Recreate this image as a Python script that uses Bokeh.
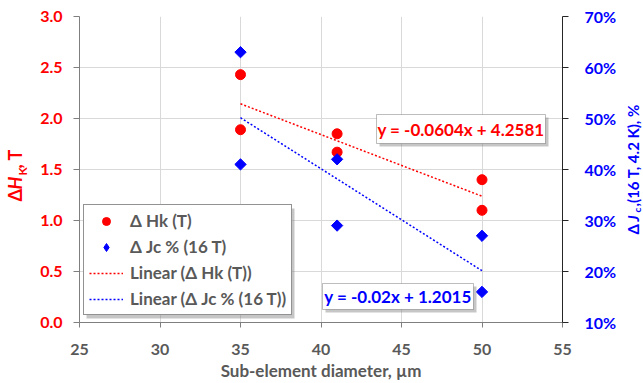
import math

from bokeh.embed import file_html
from bokeh.layouts import row
from bokeh.models import (BoxAnnotation, Label, Legend, LegendItem, LinearAxis,
                          NumeralTickFormatter, Range1d)
from bokeh.plotting import figure
from bokeh.resources import INLINE

# Measured data: sub-element diameter vs. change of Hk and Jc
diameter = [35, 35, 41, 41, 50, 50]
delta_hk = [2.43, 1.89, 1.85, 1.67, 1.40, 1.10]
delta_jc = [0.63, 0.41, 0.42, 0.29, 0.27, 0.16]

# Linear trend coefficients (slope, intercept)
hk_fit = (-0.0604, 4.2581)
jc_fit = (-0.02, 1.2015)
fit_span = [35, 50]

x_ticks = [25, 30, 35, 40, 45, 50, 55]
hk_ticks = [0.0, 0.5, 1.0, 1.5, 2.0, 2.5, 3.0]
jc_ticks = [0.1, 0.2, 0.3, 0.4, 0.5, 0.6, 0.7]

FONT = "Lato"
RED = "#FF0000"
BLUE = "#0000FF"
GRAY = "#595959"

# page geometry (pixels)
W, H = 643, 383
LEFT_STRIP, RIGHT_STRIP = 30, 23          # strips holding the vertical titles
LEFT, RIGHT, TOP, BOTTOM = 79, 81, 16, 61  # frame borders measured on the whole page
FW, FH = W - LEFT - RIGHT, H - TOP - BOTTOM
X0, X1 = x_ticks[0], x_ticks[-1]
Y0, Y1 = hk_ticks[0], hk_ticks[-1]


def px_x(px):
    return X0 + (px - LEFT) * (X1 - X0) / FW


def px_y(py):
    return Y0 + (TOP + FH - py) * (Y1 - Y0) / FH


p = figure(width=W - LEFT_STRIP - RIGHT_STRIP, height=H, output_backend="svg",
           toolbar_location=None, x_range=Range1d(X0, X1), y_range=Range1d(Y0, Y1),
           min_border_left=LEFT - LEFT_STRIP, min_border_right=RIGHT - RIGHT_STRIP,
           min_border_top=TOP, min_border_bottom=BOTTOM)
p.extra_y_ranges = {"jc": Range1d(jc_ticks[0], jc_ticks[-1])}
p.outline_line_color = None
p.background_fill_color = "white"
p.border_fill_color = "white"

# grid
p.xgrid.ticker = x_ticks
p.ygrid.ticker = hk_ticks
p.grid.grid_line_color = "#d9d9d9"
p.grid.grid_line_width = 1

# bottom axis
xa = p.xaxis[0]
xa.ticker = x_ticks
xa.axis_label = "Sub-element diameter, µm"
xa.axis_label_text_font = FONT
xa.axis_label_text_font_style = "bold"
xa.axis_label_text_font_size = "17px"
xa.axis_label_text_color = GRAY
xa.axis_label_standoff = 2
xa.major_label_text_font = FONT
xa.major_label_text_font_style = "bold"
xa.major_label_text_font_size = "16px"
xa.major_label_text_color = GRAY
xa.major_label_standoff = 16
xa.axis_line_color = "#7f7f7f"
xa.major_tick_line_color = "#7f7f7f"
xa.major_tick_out = 5
xa.major_tick_in = 0
xa.minor_tick_line_color = None

# left axis
ya = p.yaxis[0]
ya.ticker = hk_ticks
ya.formatter = NumeralTickFormatter(format="0.0")
ya.major_label_text_font = FONT
ya.major_label_text_font_style = "bold"
ya.major_label_text_font_size = "16px"
ya.major_label_text_color = RED
ya.major_label_standoff = 11
ya.axis_line_color = "#7f7f7f"
ya.major_tick_line_color = "#7f7f7f"
ya.major_tick_out = 6
ya.major_tick_in = 0
ya.minor_tick_line_color = None

# right axis
ra = LinearAxis(y_range_name="jc", ticker=jc_ticks,
                formatter=NumeralTickFormatter(format="0%"))
ra.major_label_text_font = FONT
ra.major_label_text_font_style = "bold"
ra.major_label_text_font_size = "16px"
ra.major_label_text_color = BLUE
ra.major_label_standoff = 16
ra.axis_line_color = "#262626"
ra.major_tick_line_color = "#262626"
ra.major_tick_out = 6
ra.major_tick_in = 0
ra.minor_tick_line_color = None
p.add_layout(ra, "right")

# trend lines
hk_line = p.line(fit_span, [hk_fit[0] * x + hk_fit[1] for x in fit_span],
                 line_color=RED, line_width=1.5, line_dash="2 2")
jc_line = p.line(fit_span, [jc_fit[0] * x + jc_fit[1] for x in fit_span],
                 line_color=BLUE, line_width=1.5, line_dash="2 2", y_range_name="jc")

# measured points (rotated squares for Jc)
hk_pts = p.scatter(diameter, delta_hk, marker="circle", size=10, color=RED)
jc_pts = p.scatter(diameter, delta_jc, marker="square", angle=math.pi / 4, size=8,
                   color=BLUE, y_range_name="jc")
# legend swatch for the Jc points (a single undrawn NaN point)
jc_swatch = p.scatter([float("nan")], [float("nan")], marker="diamond", size=13,
                      color=BLUE, y_range_name="jc")

# legend with drop shadow
p.add_layout(BoxAnnotation(left=px_x(86), right=px_x(294), top=px_y(208), bottom=px_y(318),
                           fill_color="#808080", fill_alpha=0.45, line_color=None))
legend = Legend(items=[
    LegendItem(label="Δ Hk (T)", renderers=[hk_pts]),
    LegendItem(label="Δ Jc % (16 T)", renderers=[jc_swatch]),
    LegendItem(label="Linear (Δ Hk (T))", renderers=[hk_line]),
    LegendItem(label="Linear (Δ Jc % (16 T))", renderers=[jc_line]),
], location=(4, 7), margin=0, padding=5, spacing=5, label_height=20, glyph_height=20,
    glyph_width=34, label_standoff=7,
    label_text_font=FONT, label_text_font_style="bold", label_text_font_size="17px",
    label_text_color=GRAY, border_line_color="#262626", border_line_width=1,
    background_fill_color="white", background_fill_alpha=1)
p.add_layout(legend, "center")


def fit_text(fit):
    return f"y = {fit[0]}x + {fit[1]}"


def equation_box(cx, cy, w, h, text, color):
    p.add_layout(BoxAnnotation(left=px_x(cx - w / 2 + 3), right=px_x(cx + w / 2 + 3),
                               top=px_y(cy - h / 2 + 3), bottom=px_y(cy + h / 2 + 3),
                               fill_color="#808080", fill_alpha=0.45, line_color=None))
    p.add_layout(BoxAnnotation(left=px_x(cx - w / 2), right=px_x(cx + w / 2),
                               top=px_y(cy - h / 2), bottom=px_y(cy + h / 2),
                               fill_color="white", fill_alpha=1, line_color="#262626",
                               line_width=1))
    p.add_layout(Label(x=px_x(cx), y=px_y(cy), text=text, text_align="center",
                       text_baseline="middle", text_font=FONT, text_font_style="bold",
                       text_font_size="17px", text_color=color))


equation_box(460.5, 128.5, 169, 29, fit_text(hk_fit), RED)
equation_box(397.5, 296, 151, 26, fit_text(jc_fit), BLUE)


def title_strip(width, parts, cx, color):
    """Narrow figure carrying a vertical title assembled from styled pieces.
    Its frame has the same top/bottom borders as the main plot, and its y range
    is expressed so that a value equals (page height - pixel row from the top).
    parts: (text, style, size, start row from the page top, x_shift)"""
    s = figure(width=width, height=H, output_backend="svg", toolbar_location=None,
               x_range=Range1d(0, width), y_range=Range1d(H - TOP - FH, H - TOP),
               x_axis_type=None, y_axis_type=None,
               min_border_left=0, min_border_right=0,
               min_border_top=TOP, min_border_bottom=BOTTOM)
    s.outline_line_color = None
    s.grid.visible = False
    s.background_fill_color = "white"
    s.border_fill_color = "white"
    for text, style, size, start, shift in parts:
        s.add_layout(Label(x=cx + shift, y=H - start, text=text, angle=math.pi / 2,
                           text_align="left", text_baseline="middle", text_font=FONT,
                           text_font_style=style, text_font_size=f"{size}px",
                           text_color=color))
    return s


left_title = title_strip(LEFT_STRIP, [
    ("Δ", "bold", 18, 201, 0),
    ("H", "bold italic", 18, 189, 0),
    ("K", "bold", 12, 175, 7),
    (", T", "bold", 18, 168, 0),
], 14.5, RED)

right_title = title_strip(RIGHT_STRIP, [
    ("Δ ", "bold", 15, 234, 0),
    ("J", "bold italic", 15, 221, 0),
    ("c", "bold", 10, 212, 4),
    (",(16 T, 4.2 K), %", "bold", 15, 206, 0),
], 12.5, BLUE)

layout = row(left_title, p, right_title, spacing=0)
open("out.html", "w").write(file_html(layout, INLINE))
